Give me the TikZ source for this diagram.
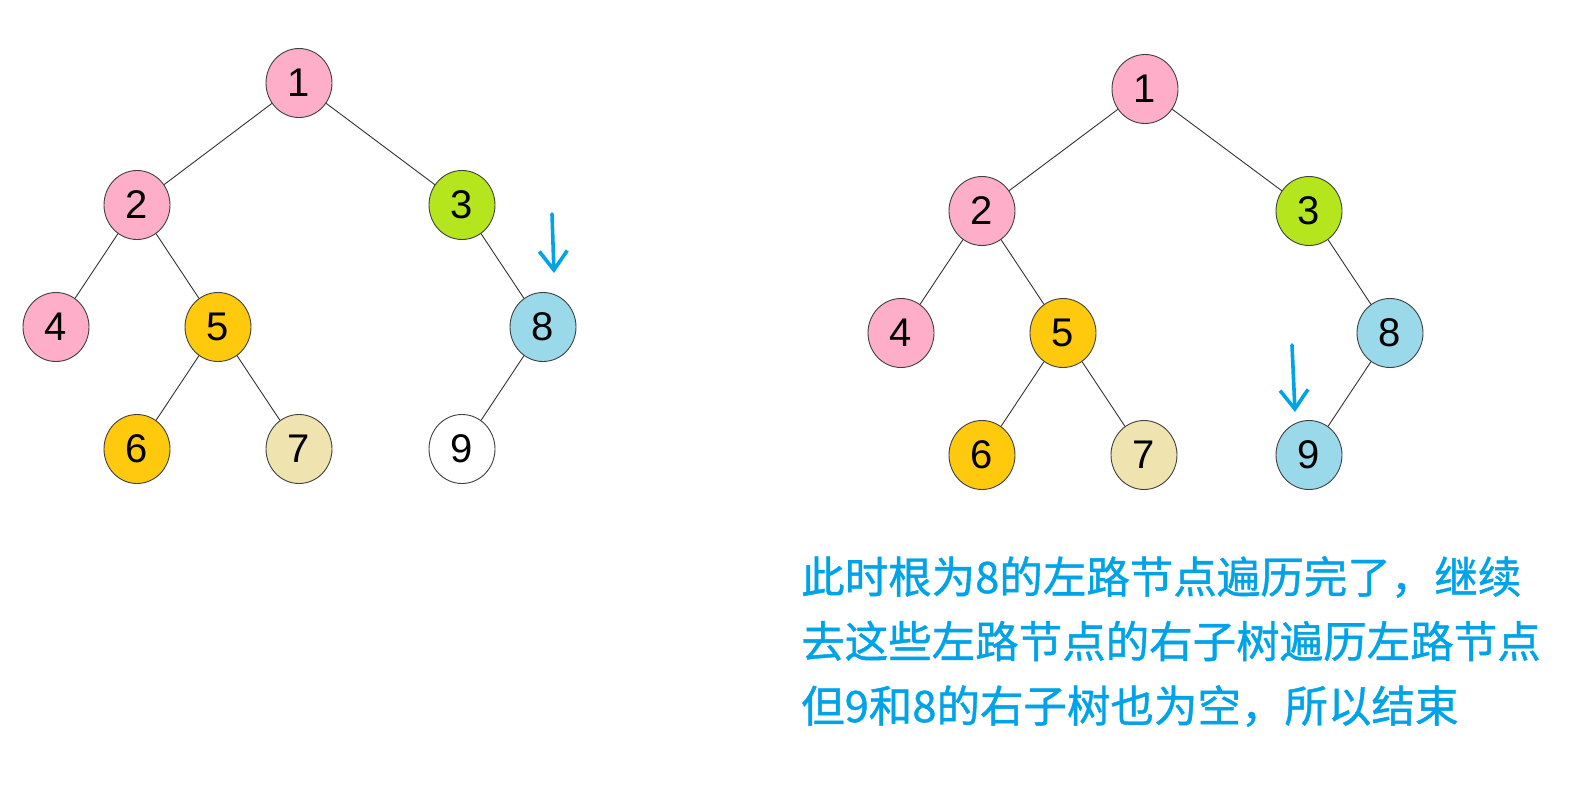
\documentclass[tikz,border=0pt]{standalone}
\usepackage{fontspec}
\setmainfont{Liberation Sans}
\newfontfamily\cjk[FakeBold=1]{Noto Sans CJK SC}
\usetikzlibrary{positioning,arrows.meta,shapes.geometric}
\definecolor{rose}{RGB}{255,174,201}
\definecolor{lime}{RGB}{181,230,29}
\definecolor{gold}{RGB}{255,201,14}
\definecolor{tan}{RGB}{239,228,176}
\definecolor{turq}{RGB}{153,217,234}
\definecolor{paintblue}{RGB}{0,162,232}
\tikzset{vert/.style={ellipse,draw=black!75,line width=0.9pt,minimum width=66pt,minimum height=69pt,inner sep=0pt,font=\fontsize{40}{40}\selectfont},link/.style={draw=black!80,line width=0.9pt},ptr/.style={-{Straight Barb[length=19pt,width=28pt]},line width=3.6pt,paintblue,line cap=round},note/.style={align=left,inner sep=0pt,text=paintblue,font=\cjk\fontsize{43.5}{64.5}\selectfont}}

\begin{document}
\begin{tikzpicture}[x=1pt,y=-1pt,node distance=122pt and 81pt,on grid]
\useasboundingbox (0,0) rectangle (1591,788);
\node[vert,fill=rose] (a1) at (299,83) {1};
\node[vert,fill=rose,below left=122pt and 162pt of a1] (a2) {2};
\node[vert,fill=lime,below right=122pt and 163pt of a1] (a3) {3};
\node[vert,fill=rose,below left=of a2] (a4) {4};
\node[vert,fill=gold,below right=of a2] (a5) {5};
\node[vert,fill=turq,below right=of a3] (a8) {8};
\node[vert,fill=gold,below left=of a5] (a6) {6};
\node[vert,fill=tan,below right=of a5] (a7) {7};
\node[vert,fill=white,below left=of a8] (a9) {9};
\draw[link] (a1) -- (a2) (a1) -- (a3) (a2) -- (a4) (a2) -- (a5) (a3) -- (a8) (a5) -- (a6) (a5) -- (a7) (a8) -- (a9);
\coordinate (p1) at ([shift={(9,-113)}]a8.center);
\coordinate (q1) at ([shift={(11,-54)}]a8.center);
\draw[ptr] (p1) -- (q1);

\node[vert,fill=rose] (b1) at (1145,89) {1};
\node[vert,fill=rose,below left=122pt and 163pt of b1] (b2) {2};
\node[vert,fill=lime,below right=122pt and 164pt of b1] (b3) {3};
\node[vert,fill=rose,below left=of b2] (b4) {4};
\node[vert,fill=gold,below right=of b2] (b5) {5};
\node[vert,fill=turq,below right=of b3] (b8) {8};
\node[vert,fill=gold,below left=of b5] (b6) {6};
\node[vert,fill=tan,below right=of b5] (b7) {7};
\node[vert,fill=turq,below left=of b8] (b9) {9};
\draw[link] (b1) -- (b2) (b1) -- (b3) (b2) -- (b4) (b2) -- (b5) (b3) -- (b8) (b5) -- (b6) (b5) -- (b7) (b8) -- (b9);
\coordinate (p2) at ([shift={(-17,-110)}]b9.center);
\coordinate (q2) at ([shift={(-14,-43)}]b9.center);
\draw[ptr] (p2) -- (q2);

\node[note,anchor=north west] (text) at (801,556) {此时根为8的左路节点遍历完了，继续\\去这些左路节点的右子树遍历左路节点\\但9和8的右子树也为空，所以结束};
\end{tikzpicture}
\end{document}
